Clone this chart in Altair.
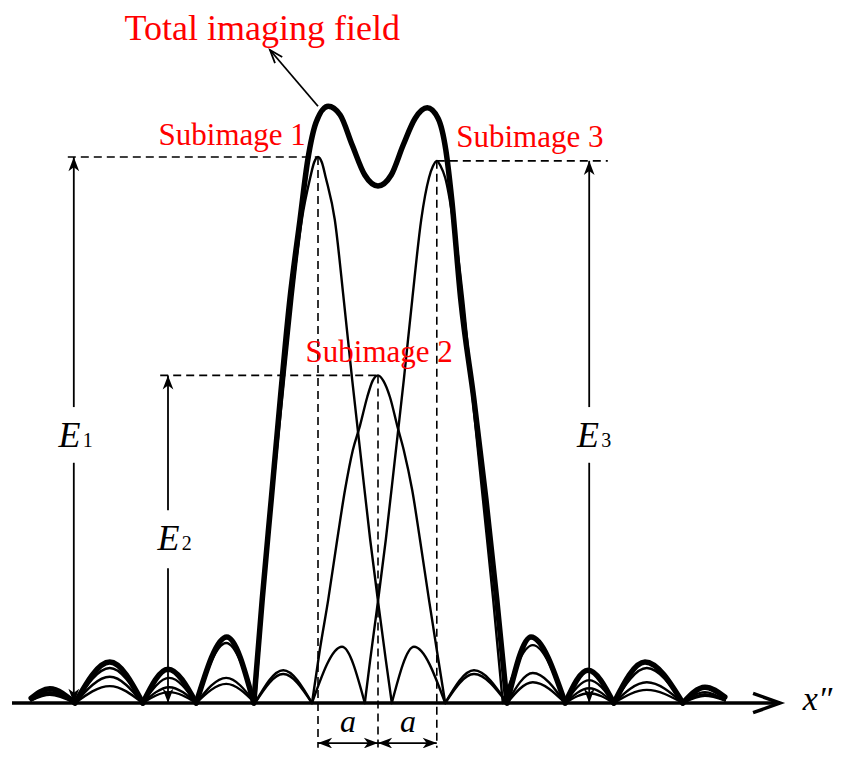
import altair as alt
import pandas as pd

# ---------------- data ----------------
# x in units of a (centred on sub-image 2), y in % of E1
TOTAL_X = [-5.78, -5.47, -5.05, -4.47, -3.92, -3.50, -3.03, -2.52, -2.07,
           -1.93, -1.78, -1.63, -1.47, -1.30, -1.17, -1.03, -0.83, -0.63, -0.43, -0.22,
           0.00, 0.22, 0.42, 0.62, 0.82, 1.00, 1.13, 1.23, 1.38, 1.60, 1.80, 1.98, 2.15,
           2.55, 3.12, 3.50, 3.93, 4.45, 5.08, 5.45, 5.78]
TOTAL_Y = [0.9, 2.6, 0, 7.5, 0, 6.2, 0, 12.1, 0,
           18.9, 37.2, 55.5, 73.8, 88.5, 99.5, 106.4, 109.3, 107.7, 102.2, 96.7,
           94.7, 96.7, 102.2, 107.1, 109.0, 107.1, 101.3, 92.1, 73.8, 55.5, 37.2, 18.9, 0,
           12.1, 0, 6.0, 0, 7.5, 0, 2.9, 1.1]

SUB1_X = [-5.78, -5.47, -5.05, -4.47, -3.92, -3.48, -3.03, -2.53, -2.05,
          -1.92, -1.77, -1.60, -1.43, -1.27, -1.13, -1.065, -1.00, -0.935, -0.87, -0.72,
          -0.57, -0.43, -0.28, -0.13, 0.02, 0.13, 0.23,
          0.60, 1.12, 1.60, 2.15, 2.58, 3.12, 3.52, 3.93, 4.48, 5.08, 5.45, 5.78]
SUB1_Y = [0.5, 2.0, 0, 6.4, 0, 4.6, 0, 11.0, 0,
          18.9, 37.2, 55.5, 73.8, 88.5, 96.2, 99.0, 100.0, 99.0, 96.2, 88.5,
          73.8, 59.2, 44.5, 29.9, 17.0, 7.9, 0,
          10.3, 0, 5.3, 0, 3.8, 0, 1.8, 0, 2.4, 0, 1.3, 0.5]

SUB2_X = [-5.78, -5.47, -5.05, -4.47, -3.92, -3.48, -3.03, -2.53, -2.05, -1.58, -1.10,
          -0.97, -0.83, -0.68, -0.55, -0.42, -0.30, -0.18, -0.09, 0.00, 0.09, 0.20, 0.32,
          0.43, 0.57, 0.70, 0.85, 0.98, 1.12,
          1.60, 2.15, 2.58, 3.12, 3.52, 3.93, 4.48, 5.08, 5.45, 5.78]
SUB2_Y = [0.5, 1.8, 0, 4.8, 0, 2.9, 0, 4.6, 0, 6.0, 0,
          9.7, 18.9, 29.9, 39.0, 46.3, 50.8, 56.0, 59.0, 60.0, 59.0, 56.0, 50.8,
          46.3, 39.0, 29.9, 18.9, 9.7, 0,
          6.0, 0, 5.5, 0, 2.7, 0, 3.8, 0, 1.6, 0.5]

SUB3_X = [-5.78, -5.47, -5.05, -4.47, -3.92, -3.48, -3.03, -2.53, -2.05, -1.58, -1.10, -0.60, -0.22,
          -0.13, -0.02, 0.13, 0.28, 0.43, 0.57, 0.72, 0.85, 0.915, 0.98, 1.045, 1.12, 1.25, 1.42,
          1.58, 1.75, 1.92, 2.08,
          2.58, 3.12, 3.52, 3.93, 4.48, 5.08, 5.45, 5.78]
SUB3_Y = [0.5, 1.5, 0, 3.1, 0, 2.0, 0, 3.5, 0, 5.3, 0, 10.3, 0,
          7.9, 17.0, 29.9, 44.5, 59.2, 73.8, 88.5, 96.2, 98.3, 99.3, 98.3, 96.2, 88.5, 73.8,
          55.5, 37.2, 18.9, 0,
          10.6, 0, 4.2, 0, 6.4, 0, 2.0, 0.5]

PEAK_X = [-1.00, 0.00, 0.98]          # sub-image centres
PEAK_Y = [100.0, 60.0, 99.3]          # E1, E2, E3
E_ARROW_X = [-5.07, -3.50, 3.52]
E_GAP = [[54.2, 44.0], [35.3, 24.7], [54.2, 44.0]]
E_GUIDE_X0 = [-5.17, -3.63, 3.83]
E_LABELS = ["1", "2", "3"]
E_LABEL_POS = [(-5.14, 46.9), (-3.49, 28.0), (3.50, 46.9)]
A_LEVEL = -7.33
BOTTOM = -8.2
AXIS_X = [-6.10, 6.70]

XMIN, XMAX = -6.1667, 7.6667
YMIN, YMAX = -8.24, 127.29

# ---------------- build tables ----------------
def segments(name, xs, ys):
    rows, seg = [], 0
    n = len(xs)
    for i, (x, y) in enumerate(zip(xs, ys)):
        rows.append(dict(x=x, y=y, seg=f"{name}{seg}"))
        if y == 0 and 0 < i < n - 1:
            seg += 1
            rows.append(dict(x=x, y=y, seg=f"{name}{seg}"))
    return rows

subs = pd.DataFrame(segments("s1", SUB1_X, SUB1_Y) + segments("s2", SUB2_X, SUB2_Y)
                    + segments("s3", SUB3_X, SUB3_Y))
total = pd.DataFrame(segments("t", TOTAL_X, TOTAL_Y))

dashed = []
for px, py in zip(PEAK_X, PEAK_Y):
    dashed.append(dict(x=px, x2=px, y=py, y2=BOTTOM))
dashed.append(dict(x=E_GUIDE_X0[0], x2=PEAK_X[0], y=PEAK_Y[0], y2=PEAK_Y[0]))
dashed.append(dict(x=E_GUIDE_X0[1], x2=PEAK_X[1], y=PEAK_Y[1], y2=PEAK_Y[1]))
dashed.append(dict(x=PEAK_X[2], x2=E_GUIDE_X0[2], y=PEAK_Y[2], y2=PEAK_Y[2]))
dashed = pd.DataFrame(dashed)

solid = []
for ex, top, (g1, g2) in zip(E_ARROW_X, PEAK_Y, E_GAP):
    solid.append(dict(x=ex, x2=ex, y=top, y2=g1))
    solid.append(dict(x=ex, x2=ex, y=g2, y2=0))
solid.append(dict(x=PEAK_X[0], x2=PEAK_X[2], y=A_LEVEL, y2=A_LEVEL))
solid.append(dict(x=-1.0, x2=-1.8, y=109.3, y2=119.6))
solid = pd.DataFrame(solid)

heads = []
for ex, top in zip(E_ARROW_X, PEAK_Y):
    heads.append(dict(x=ex, y=top, angle=0))
    heads.append(dict(x=ex, y=0, angle=180))
heads += [dict(x=PEAK_X[0], y=A_LEVEL, angle=270), dict(x=PEAK_X[1], y=A_LEVEL, angle=90),
          dict(x=PEAK_X[1], y=A_LEVEL, angle=270), dict(x=PEAK_X[2], y=A_LEVEL, angle=90)]
heads = pd.DataFrame(heads)

axis_df = pd.DataFrame([dict(x=AXIS_X[0], x2=AXIS_X[1], y=0, y2=0)])
axis_head = pd.DataFrame([dict(x=AXIS_X[1], y=0, angle=90)])
tot_head = pd.DataFrame([dict(x=-1.8, y=119.6, angle=319.4)])

red_txt = pd.DataFrame([
    dict(x=-1.93, y=121.4, t="Total imaging field", s=36),
    dict(x=-2.43, y=102.2, t="Subimage 1", s=31),
    dict(x=2.53, y=101.8, t="Subimage 3", s=31),
    dict(x=0.02, y=62.5, t="Subimage 2", s=31),
])
e_txt = pd.DataFrame([dict(x=p[0], y=p[1], t="E") for p in E_LABEL_POS])
sub_txt = pd.DataFrame([dict(x=p[0] + 0.22, y=p[1], t=l) for p, l in zip(E_LABEL_POS, E_LABELS)])
a_txt = pd.DataFrame([dict(x=-0.5, y=-5.3, t="a"), dict(x=0.5, y=-5.3, t="a")])
x_txt = pd.DataFrame([dict(x=7.08, y=-1.28, t="x\u2033")])

# ---------------- encodings ----------------
xs = alt.Scale(domain=[XMIN, XMAX], nice=False, zero=False)
ys = alt.Scale(domain=[YMIN, YMAX], nice=False, zero=False)
X = alt.X("x:Q", scale=xs, axis=None)
Y = alt.Y("y:Q", scale=ys, axis=None)

FONT = "Liberation Serif"
ARROW = "M0,0 L0.38,1 L0,0.72 L-0.38,1 Z"
CHEV = "M-0.36,1 L0,0 L0.36,1"

layers = [
    alt.Chart(subs).mark_line(interpolate="monotone", color="black", strokeWidth=2.4,
                              strokeCap="round").encode(X, Y, detail="seg:N"),
    alt.Chart(total).mark_line(interpolate="monotone", color="black", strokeWidth=5.5,
                               strokeCap="round", strokeJoin="round").encode(X, Y, detail="seg:N"),
    alt.Chart(dashed).mark_rule(color="black", strokeWidth=1.6, strokeDash=[8, 5]).encode(
        X, Y, x2="x2:Q", y2="y2:Q"),
    alt.Chart(solid).mark_rule(color="black", strokeWidth=1.8).encode(X, Y, x2="x2:Q", y2="y2:Q"),
    alt.Chart(heads).mark_point(shape=ARROW, filled=True, color="black", size=800, opacity=1).encode(
        X, Y, angle=alt.Angle("angle:Q", scale=None)),
    alt.Chart(axis_df).mark_rule(color="black", strokeWidth=3.5).encode(X, Y, x2="x2:Q"),
    alt.Chart(axis_head).mark_point(shape=CHEV, filled=False, color="black", size=2900,
                                    strokeWidth=3.5, opacity=1).encode(
        X, Y, angle=alt.Angle("angle:Q", scale=None)),
    alt.Chart(tot_head).mark_point(shape=CHEV, filled=False, color="black", size=700,
                                   strokeWidth=1.8, opacity=1).encode(
        X, Y, angle=alt.Angle("angle:Q", scale=None)),
    alt.Chart(red_txt).mark_text(font=FONT, color="#ff0000", align="center",
                                 baseline="alphabetic").encode(
        X, Y, text="t:N", size=alt.Size("s:Q", scale=None)),
    alt.Chart(e_txt).mark_text(font=FONT, fontStyle="italic", fontSize=36, color="black",
                               align="center", baseline="alphabetic").encode(X, Y, text="t:N"),
    alt.Chart(sub_txt).mark_text(font=FONT, fontSize=20, color="black",
                                 align="left", baseline="alphabetic").encode(X, Y, text="t:N"),
    alt.Chart(a_txt).mark_text(font=FONT, fontStyle="italic", fontSize=32, color="black",
                               align="center", baseline="alphabetic").encode(X, Y, text="t:N"),
    alt.Chart(x_txt).mark_text(font=FONT, fontStyle="italic", fontSize=34, color="black",
                               align="left", baseline="alphabetic").encode(X, Y, text="t:N"),
]

chart = alt.layer(*layers).properties(
    width=830, height=740, padding=0,
    autosize=alt.AutoSizeParams(type="none"),
    background="white",
).configure_view(stroke=None)

chart.save("out.html", embed_options={"renderer": "svg", "actions": False})
